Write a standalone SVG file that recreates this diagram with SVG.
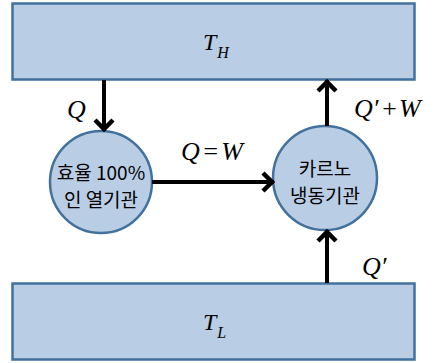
<svg xmlns="http://www.w3.org/2000/svg" width="435" height="363" viewBox="0 0 435 363">
<style>
.box{fill:#B9CDE4;stroke:#41719C;stroke-width:2.5}
.eng{fill:#B9CDE4;stroke:#41719C;stroke-width:2.5}
.con{stroke:#000;stroke-width:4;fill:none;marker-end:url(#ah)}
.m{font-family:"Liberation Serif","Times New Roman",serif;font-style:italic;font-size:26px;fill:#000}
.t{font-size:24px}
.sub{font-size:16px}
.k{font-family:"Noto Sans CJK KR","Noto Sans",sans-serif;font-size:19px;fill:#000;text-anchor:middle}
</style>
<defs>
<marker id="ah" viewBox="0 0 26 24" refX="22" refY="12" markerWidth="26" markerHeight="24" orient="auto" markerUnits="userSpaceOnUse">
<path d="M11,3 L20,12 L11,21" fill="none" stroke="#000" stroke-width="4.5" stroke-linejoin="miter"/>
</marker>
</defs>
<g id="hot">
<rect class="box" x="12.5" y="3.5" width="402" height="76"/>
<text class="m t" x="203" y="50">T<tspan class="sub" dx="1" dy="8">H</tspan></text>
</g>
<g id="cold">
<rect class="box" x="12.5" y="283.5" width="402" height="76"/>
<text class="m t" x="203" y="330">T<tspan class="sub" dx="1" dy="8">L</tspan></text>
</g>
<g id="engine">
<circle class="eng" cx="101" cy="182" r="51"/>
<text class="k" x="101" y="180">효율 100%</text>
<text class="k" x="101" y="207">인 열기관</text>
</g>
<g id="fridge">
<circle class="eng" cx="325" cy="178" r="52"/>
<text class="k" x="325" y="176">카르노</text>
<text class="k" x="325" y="203">냉동기관</text>
</g>
<g id="connectors">
<line class="con" x1="104" y1="80" x2="104" y2="131"/>
<line class="con" x1="152" y1="182" x2="274" y2="182"/>
<line class="con" x1="327" y1="126" x2="327" y2="80"/>
<line class="con" x1="327" y1="283" x2="327" y2="230"/>
<text class="m" x="67" y="118">Q</text>
<text class="m" x="181" y="160">Q<tspan dx="2">=</tspan><tspan dx="2">W</tspan></text>
<text class="m" x="354" y="117">Q′<tspan dx="2">+</tspan><tspan dx="1">W</tspan></text>
<text class="m" x="362" y="275">Q′</text>
</g>
</svg>
